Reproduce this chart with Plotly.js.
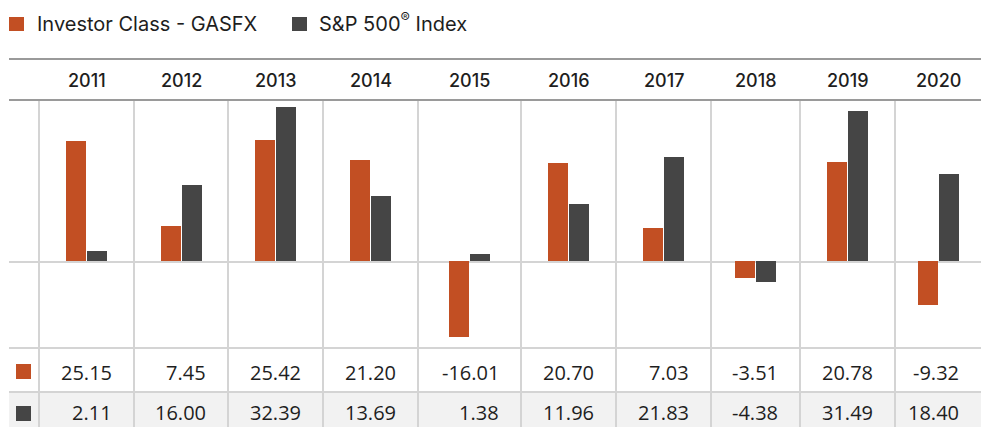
<!DOCTYPE html>
<html><head><meta charset="utf-8">
<script src="https://cdn.plot.ly/plotly-3.0.1.min.js"></script>
<style>html,body{margin:0;padding:0;background:#fff}</style>
</head><body><div id="chart" style="width:981px;height:427px"></div>
<script>
// ---- data ----
const years = ['2011','2012','2013','2014','2015','2016','2017','2018','2019','2020'];
const fundName = 'Investor Class - GASFX';
const indexName = 'S&P 500<sup>®</sup> Index';
const fundReturns = [25.15, 7.45, 25.42, 21.20, -16.01, 20.70, 7.03, -3.51, 20.78, -9.32];
const indexReturns = [2.11, 16.00, 32.39, 13.69, 1.38, 11.96, 21.83, -4.38, 31.49, 18.40];

// ---- layout constants (pixels) ----
const W = 981, H = 427;
const colEdges = [39, 134, 228, 323, 418, 521, 616, 711, 800, 895, 981];
const centers = years.map((y, i) => (colEdges[i] + colEdges[i + 1]) / 2);
const plotTop = 101, plotBot = 348, zeroPx = 261, pxPerUnit = 4.755;
const ORANGE = '#C24F23', GRAY = '#454545', GRID = '#d4d4d4', DARKLINE = '#9a9a9a';
const py = p => (H - p) / H;
const TXT = '#1e1e1e';
const HEAD_FONT = 'Inter, Lato, sans-serif';
const VAL_FONT = '"Open Sans", "Noto Sans", sans-serif';

const traces = [
  {type: 'bar', x: centers, y: fundReturns, name: fundName, width: 20, offset: -20.5,
   marker: {color: ORANGE}, hoverinfo: 'none', showlegend: false},
  {type: 'bar', x: centers, y: indexReturns, name: indexName, width: 20, offset: 0.5,
   marker: {color: GRAY}, hoverinfo: 'none', showlegend: false}
];

const shapes = [];
const line = (x0, y0, x1, y1, color, w) => shapes.push({type: 'line', xref: 'x', yref: 'paper',
  x0, x1, y0: py(y0), y1: py(y1), line: {color, width: w}, layer: 'below'});
const rect = (x0, y0, x1, y1, color, layer) => shapes.push({type: 'rect', xref: 'x', yref: 'paper',
  x0, x1, y0: py(y0), y1: py(y1), fillcolor: color, line: {width: 0}, layer: layer || 'below'});

rect(9, 393, W, H, '#f2f2f2');
line(9, 59, W, 59, DARKLINE, 2);
line(9, 100, W, 100, DARKLINE, 2);
line(9, 262, W, 262, GRID, 2);
line(9, 348, W, 348, GRID, 2);
line(9, 392, W, 392, GRID, 2);
colEdges.slice(0, -1).forEach(x => line(x, 101, x, H, GRID, 2));
// legend swatches
rect(9, 17, 24, 31, ORANGE, 'above');
rect(292, 17, 307, 31, GRAY, 'above');
// table swatches
rect(16, 364, 31, 379, ORANGE, 'above');
rect(16, 406, 31, 421, GRAY, 'above');

const annotations = [];
const ann = (text, x, y, xanchor, font) => annotations.push({text, x, y: py(y), xref: 'x', yref: 'paper',
  xanchor, yanchor: 'middle', showarrow: false, font});
const headFont = {family: HEAD_FONT, size: 20, color: TXT, weight: 400};
ann(fundName, 35, 24, 'left', headFont);
ann(indexName, 317, 23, 'left', headFont);
years.forEach((y, i) => ann(y, centers[i], 80, 'center', {family: HEAD_FONT, size: 18, color: TXT, weight: 500}));
const valFont = {family: VAL_FONT, size: 20, color: TXT};
fundReturns.forEach((v, i) => ann(v.toFixed(2), colEdges[i + 1] - 20, 372, 'right', valFont));
indexReturns.forEach((v, i) => ann(v.toFixed(2), colEdges[i + 1] - 20, 412, 'right', valFont));

const layout = {
  width: W, height: H, margin: {l: 0, r: 0, t: 0, b: 0},
  paper_bgcolor: '#fff', plot_bgcolor: 'rgba(0,0,0,0)',
  xaxis: {range: [0, W], domain: [0, 1], visible: false, fixedrange: true},
  yaxis: {range: [-(plotBot - zeroPx) / pxPerUnit, (zeroPx - plotTop) / pxPerUnit],
          domain: [py(plotBot), py(plotTop)], visible: false, zeroline: false, fixedrange: true},
  barmode: 'overlay', bargap: 0,
  shapes, annotations, showlegend: false
};
Plotly.newPlot('chart', traces, layout, {displayModeBar: false, staticPlot: true});
</script></body></html>
